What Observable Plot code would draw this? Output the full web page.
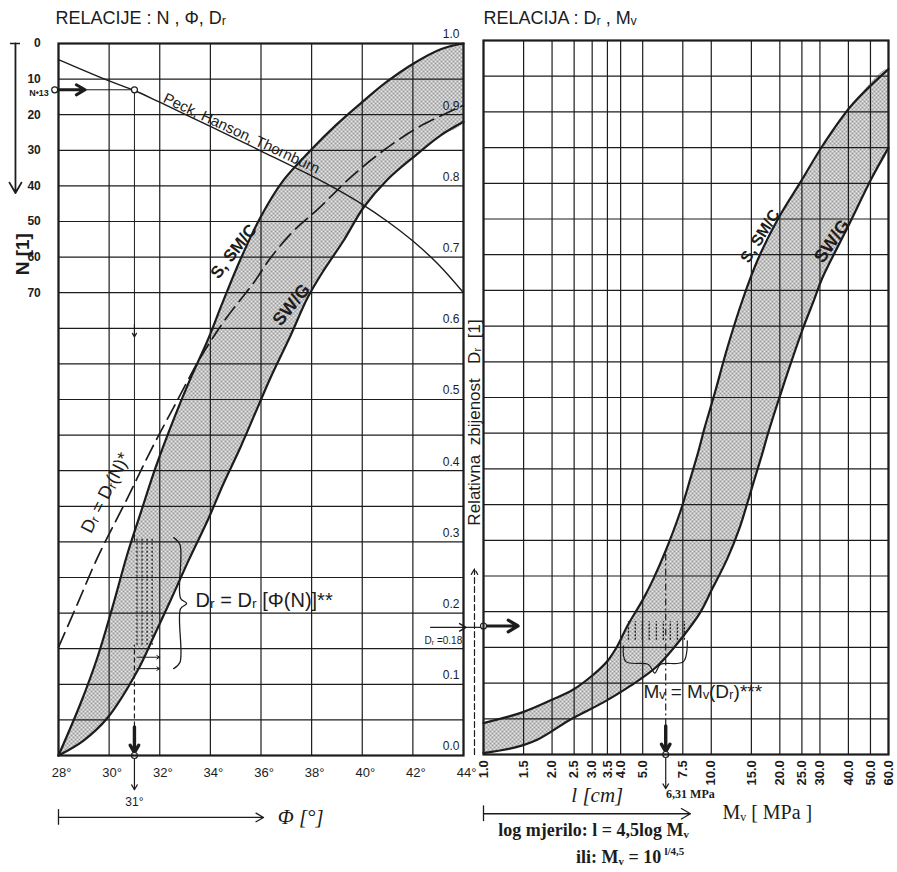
<!DOCTYPE html>
<html><head><meta charset="utf-8">
<script src="https://cdn.jsdelivr.net/npm/d3@7"></script>
<script src="https://cdn.jsdelivr.net/npm/@observablehq/plot@0.6"></script>
<style>
body{margin:0;background:#fff;}
#wrap{position:relative;width:897px;height:872px;overflow:hidden;background:#fff;}
#wrap svg{position:absolute;top:0;overflow:visible;}
</style></head><body>
<svg width="0" height="0" style="position:absolute">
<defs>
<pattern id="dots" width="4" height="4" patternUnits="userSpaceOnUse">
<rect width="4" height="4" fill="#e8e8e8"/>
<circle cx="1" cy="1" r="0.8" fill="#3c3c3c"/>
<circle cx="3" cy="3" r="0.8" fill="#3c3c3c"/>
</pattern></defs></svg>
<div id="wrap"></div>
<script>
// ================= DATA =================
// Left panel: N, Phi, Dr
const phiTicks = [28, 30, 32, 34, 36, 38, 40, 42, 44];
const drLabels = [0.0, 0.1, 0.2, 0.3, 0.4, 0.5, 0.6, 0.7, 0.8, 0.9, 1.0];
const drGrid = [0, 0.05, 0.1, 0.15, 0.2, 0.25, 0.3, 0.35, 0.4, 0.45, 0.5, 0.55, 0.6, 0.65, 0.7, 0.75, 0.8, 0.85, 0.9, 0.95, 1.0];
const nTicks = [0, 10, 20, 30, 40, 50, 60, 70];

const phiUpper = [28.00, 28.87, 29.54, 30.13, 30.73, 31.24, 31.83, 32.58, 33.22, 33.89, 34.48, 35.19, 35.98, 36.89, 37.96, 38.95, 39.94, 41.00, 42.03, 43.10, 44.00];
const drUpper  = [0.000, 0.073, 0.138, 0.208, 0.284, 0.340, 0.404, 0.475, 0.530, 0.583, 0.636, 0.697, 0.756, 0.808, 0.850, 0.885, 0.916, 0.947, 0.972, 0.992, 1.000];
const phiLower = [28.00, 28.99, 29.94, 31.12, 31.75, 32.43, 33.14, 33.89, 34.52, 35.19, 35.87, 36.38, 37.17, 37.84, 38.47, 39.26, 40.06, 41.00, 42.11, 43.10, 44.00];
const drLower  = [0.000, 0.021, 0.053, 0.119, 0.166, 0.218, 0.274, 0.330, 0.382, 0.433, 0.489, 0.531, 0.590, 0.643, 0.681, 0.723, 0.770, 0.809, 0.843, 0.871, 0.890];
const phiDashed = [28.00, 28.75, 29.54, 30.73, 31.64, 32.55, 33.61, 34.60, 35.71, 36.38, 37.29, 38.24, 39.54, 40.85, 42.30, 44.00];
const drDashed  = [0.152, 0.213, 0.278, 0.362, 0.428, 0.489, 0.559, 0.613, 0.664, 0.699, 0.737, 0.767, 0.812, 0.850, 0.884, 0.913];
const phiPeck = [28, 30, 31, 32, 34, 36, 38, 39, 40, 41, 42, 43, 44];
const nPeck   = [4.5, 10.5, 13.2, 16.5, 23.3, 30.2, 37.2, 41, 45.2, 50, 55.5, 62, 70];

// worked example
const nExample = 13, phiExample = 31, drExample = 0.18, mvExample = 6.31;
const braceLPhi = [32.55, 32.80, 32.82, 33.06, 32.82, 32.80, 32.55];
const braceLDr  = [0.306, 0.296, 0.221, 0.2135, 0.206, 0.131, 0.122];
const stippleLPhi = [31.1, 31.3, 31.5, 31.7];
const smallArrowsLDr = [0.138, 0.122];

// Right panel: Dr, Mv
const mvTicks = [1, 1.5, 2, 2.5, 3, 3.5, 4, 5, 7.5, 10, 15, 20, 25, 30, 40, 50, 60];
const mvUpper  = [1.00, 1.48, 2.01, 2.48, 3.04, 3.50, 3.87, 4.28, 5.03, 5.57, 6.28, 7.31, 8.09, 8.77, 9.32, 10.4, 11.75, 13.8, 16.1, 19.7, 24.8, 31.0, 41.5, 60];
const drUpperR = [0.044, 0.059, 0.077, 0.091, 0.112, 0.131, 0.152, 0.180, 0.218, 0.246, 0.284, 0.340, 0.386, 0.424, 0.456, 0.508, 0.569, 0.639, 0.695, 0.751, 0.803, 0.854, 0.910, 0.960];
const mvLower  = [1.00, 1.38, 1.73, 2.41, 3.36, 4.41, 5.80, 7.54, 8.95, 10.1, 11.75, 13.27, 14.4, 15.4, 16.7, 17.8, 20.3, 25.3, 28.3, 30.7, 39.5, 50.8, 60];
const drLowerR = [0.002, 0.010, 0.021, 0.049, 0.073, 0.096, 0.124, 0.166, 0.199, 0.232, 0.274, 0.316, 0.352, 0.383, 0.420, 0.451, 0.508, 0.597, 0.637, 0.667, 0.737, 0.808, 0.850];
const stippleRMv = [4.33, 4.64, 4.98, 5.34, 5.74, 6.16, 6.61, 7.10, 7.62];
const braceRMv = [4.11, 4.22, 5.30, 5.65, 5.98, 7.55, 7.85];
const braceRDr = [0.152, 0.130, 0.126, 0.114, 0.126, 0.130, 0.159];

// ================= HELPERS =================
const ink = "#1c1c1c";
const sans = "Liberation Sans, DejaVu Sans, sans-serif";
const serif = "Liberation Serif, DejaVu Serif, serif";
const pts = (xs, ys) => xs.map((x, i) => ({x, y: ys[i]}));
const nToDr = n => 1 - n / 200;   // N axis shares the Dr grid: 10 blows per 0.05 Dr
const one = [0];
const txt = (s, o) => Plot.text([s], {text: d => d, fill: ink, ...o});

const upperL = pts(phiUpper, drUpper), lowerL = pts(phiLower, drLower);
const bandL = upperL.concat(lowerL.slice().reverse());
const dashedL = pts(phiDashed, drDashed);
const peck = phiPeck.map((x, i) => ({x, y: nToDr(nPeck[i])}));
const braceL = pts(braceLPhi, braceLDr);

const upperR = pts(mvUpper, drUpperR), lowerR = pts(mvLower, drLowerR);
const bandR = upperR.concat(lowerR.slice().reverse());
const braceR = pts(braceRMv, braceRDr);

// ================= LEFT PLOT =================
const left = Plot.plot({
  width: 475, height: 872,
  marginLeft: 58, marginRight: 12, marginTop: 43, marginBottom: 117,
  x: {domain: [28, 44], axis: null},
  y: {domain: [0, 1], axis: null},
  style: {background: "transparent", overflow: "visible", fontFamily: sans, color: ink},
  marks: [
    Plot.line(bandL, {x: "x", y: "y", fill: "url(#dots)", stroke: "none", curve: "catmull-rom", clip: true}),
    Plot.ruleY(drGrid, {stroke: ink, strokeWidth: 1.2}),
    Plot.ruleX(phiTicks, {stroke: ink, strokeWidth: 1.2}),
    Plot.line(peck, {x: "x", y: "y", curve: "catmull-rom", stroke: ink, strokeWidth: 1.4}),
    Plot.line(upperL, {x: "x", y: "y", curve: "catmull-rom", stroke: ink, strokeWidth: 2.2}),
    Plot.line(lowerL, {x: "x", y: "y", curve: "catmull-rom", stroke: ink, strokeWidth: 2.2}),
    Plot.line(dashedL, {x: "x", y: "y", curve: "catmull-rom", stroke: ink, strokeWidth: 1.7, strokeDasharray: "16,7"}),
    // worked example construction
    Plot.ruleY([nToDr(nExample)], {x1: 29.05, x2: phiExample, stroke: ink, strokeWidth: 1}),
    Plot.arrow(one, {x1: 27.85, x2: 29.05, y1: nToDr(nExample), y2: nToDr(nExample), stroke: ink, strokeWidth: 3, headLength: 8}),
    Plot.ruleX([phiExample], {y1: 0.30, y2: nToDr(nExample), stroke: ink, strokeWidth: 1}),
    Plot.arrow(one, {x1: phiExample, x2: phiExample, y1: 0.605, y2: 0.588, stroke: ink, strokeWidth: 1.2, headLength: 7}),
    Plot.ruleX(stippleLPhi, {y1: 0.155, y2: 0.305, stroke: ink, strokeWidth: 1.3, strokeDasharray: "2,2"}),
    Plot.arrow(smallArrowsLDr, {x1: 31.1, x2: 32.0, y1: d => d, y2: d => d, stroke: ink, strokeWidth: 1, headLength: 5}),
    Plot.ruleX([phiExample], {y1: 0.04, y2: 0.155, stroke: ink, strokeWidth: 1.2, strokeDasharray: "5,3"}),
    Plot.arrow(one, {x1: phiExample, x2: phiExample, y1: 0.04, y2: 0.004, stroke: ink, strokeWidth: 3.4, headLength: 8}),
    Plot.arrow(one, {x1: phiExample, x2: phiExample, y1: 0, y2: -0.048, stroke: ink, strokeWidth: 1.2, headLength: 7}),
    Plot.line(braceL, {x: "x", y: "y", curve: "catmull-rom", stroke: ink, strokeWidth: 1.3}),
    Plot.arrow(one, {x1: 42.7, x2: 44.1, y1: drExample, y2: drExample, stroke: ink, strokeWidth: 1.4, headLength: 8}),
    Plot.ruleY([drExample], {x1: 44.1, x2: 44.8, stroke: ink, strokeWidth: 1.2}),
    Plot.dot([{x: 27.85, y: nToDr(nExample)}, {x: phiExample, y: nToDr(nExample)}, {x: phiExample, y: 0}],
      {x: "x", y: "y", r: 3, fill: "white", stroke: ink, strokeWidth: 1.2}),
    // N axis arrow on far left
    Plot.arrow(one, {x1: 26.3, x2: 26.3, y1: 1, y2: 0.79, stroke: ink, strokeWidth: 1.8, headLength: 10}),
    Plot.ruleY([1], {x1: 26.1, x2: 26.5, stroke: ink, strokeWidth: 1.5}),
    // Phi axis arrow
    Plot.arrow(one, {x1: 28, x2: 36.1, y1: -0.087, y2: -0.087, stroke: ink, strokeWidth: 1.3, headLength: 10}),
    Plot.ruleX([28], {y1: -0.076, y2: -0.098, stroke: ink, strokeWidth: 1.3}),
    Plot.frame({stroke: ink, strokeWidth: 2.2}),
    // labels
    Plot.text(drLabels, {y: d => d, frameAnchor: "right", dx: -4, dy: -9, text: d => d.toFixed(1), textAnchor: "end", fontSize: 12, fill: ink}),
    Plot.text(nTicks, {x: 27.3, y: d => nToDr(d), text: d => String(d), textAnchor: "end", fontSize: 12, fontWeight: "bold", fill: ink}),
    Plot.text(phiTicks, {x: d => d, y: -0.024, dx: 3, text: d => d + "°", fontSize: 13, fill: ink}),
    txt("RELACIJE : N , Φ, Dᵣ", {x: 27.88, y: 1.035, textAnchor: "start", fontSize: 18}),
    txt("N•13", {x: 27.62, y: nToDr(nExample), dy: 3, textAnchor: "end", fontSize: 9, fontWeight: "bold"}),
    txt("N [1]", {x: 26.58, y: 0.704, rotate: -90, fontSize: 19, fontWeight: "bold"}),
    txt("31°", {x: phiExample, y: -0.066, fontSize: 12}),
    txt("Φ [°]", {x: 36.66, y: -0.087, textAnchor: "start", fontSize: 21, fontFamily: serif, fontStyle: "italic"}),
    txt("Peck, Hanson, Thornburn", {x: 35.23, y: 0.8736, rotate: 25, fontSize: 15}),
    txt("S, SM/C", {x: 34.92, y: 0.708, rotate: -52, fontSize: 17, fontWeight: 600}),
    txt("SW/G", {x: 37.2, y: 0.633, rotate: -51, fontSize: 18, fontWeight: 600}),
    txt("Dᵣ = Dᵣ(N)*", {x: 29.86, y: 0.369, rotate: -63, fontSize: 18}),
    txt("Dᵣ = Dᵣ [Φ(N)]**", {x: 33.41, y: 0.218, textAnchor: "start", fontSize: 20}),
    txt("Dᵣ =0.18", {x: 43.95, y: 0.1615, textAnchor: "end", fontSize: 10})
  ]
});

// ================= RIGHT PLOT =================
const right = Plot.plot({
  width: 434, height: 872,
  marginLeft: 20, marginRight: 9, marginTop: 40, marginBottom: 118,
  x: {type: "log", domain: [1, 60], axis: null},
  y: {domain: [0, 1], axis: null},
  style: {background: "transparent", overflow: "visible", fontFamily: sans, color: ink},
  marks: [
    Plot.line(bandR, {x: "x", y: "y", fill: "url(#dots)", stroke: "none", curve: "catmull-rom", clip: true}),
    Plot.ruleY(drGrid, {stroke: ink, strokeWidth: 1.2}),
    Plot.ruleX(mvTicks, {stroke: ink, strokeWidth: 1.2}),
    Plot.line(upperR, {x: "x", y: "y", curve: "catmull-rom", stroke: ink, strokeWidth: 2.2}),
    Plot.line(lowerR, {x: "x", y: "y", curve: "catmull-rom", stroke: ink, strokeWidth: 2.2}),
    // worked example
    Plot.ruleX(stippleRMv, {y1: 0.160, y2: 0.186, stroke: ink, strokeWidth: 1.3, strokeDasharray: "2,1.5"}),
    Plot.line(braceR, {x: "x", y: "y", curve: "catmull-rom", stroke: ink, strokeWidth: 1.2}),
    Plot.ruleX([mvExample], {y1: 0.04, y2: 0.28, stroke: ink, strokeWidth: 1.2, strokeDasharray: "7,3,2,3"}),
    Plot.arrow(one, {x1: mvExample, x2: mvExample, y1: 0.04, y2: 0.004, stroke: ink, strokeWidth: 3.4, headLength: 8}),
    Plot.arrow(one, {x1: mvExample, x2: mvExample, y1: 0, y2: -0.048, stroke: ink, strokeWidth: 1.2, headLength: 7}),
    Plot.arrow(one, {x1: 1, x2: 1.42, y1: drExample, y2: drExample, stroke: ink, strokeWidth: 3.2, headLength: 9}),
    Plot.dot([{x: 1, y: drExample}, {x: mvExample, y: 0}], {x: "x", y: "y", r: 3, fill: "white", stroke: ink, strokeWidth: 1.2}),
    // strip arrow (Dr direction)
    Plot.arrow(one, {x1: 0.913, x2: 0.913, y1: 0, y2: 0.26, stroke: ink, strokeWidth: 1.2, headLength: 8, strokeDasharray: "6,3"}),
    txt("Relativna  zbijenost   Dᵣ  [1]", {x: 0.913, y: 0.465, rotate: -90, fontSize: 17}),
    // bottom arrow
    Plot.arrow(one, {x1: 1, x2: 8.1, y1: -0.083, y2: -0.083, stroke: ink, strokeWidth: 1.3, headLength: 12}),
    Plot.ruleX([1], {y1: -0.072, y2: -0.094, stroke: ink, strokeWidth: 1.3}),
    Plot.frame({stroke: ink, strokeWidth: 2.2}),
    // labels
    Plot.text(mvTicks, {x: d => d, y: -0.008, rotate: -90, textAnchor: "end", text: d => d.toFixed(1), fontSize: 13, fontWeight: "bold", fill: ink}),
    txt("RELACIJA : Dᵣ , Mᵥ", {x: 1, y: 1.031, textAnchor: "start", fontSize: 18}),
    txt("S, SM/C", {x: 16.4, y: 0.726, rotate: -58, fontSize: 16, fontWeight: 600}),
    txt("SW/G", {x: 33.9, y: 0.719, rotate: -55, fontSize: 18, fontWeight: 600}),
    txt("Mᵥ = Mᵥ(Dᵣ)***", {x: 5.04, y: 0.087, textAnchor: "start", fontSize: 19}),
    txt("l [cm]", {x: 3.16, y: -0.057, fontSize: 21, fontFamily: serif, fontStyle: "italic"}),
    txt("6,31 MPa", {x: 8.1, y: -0.056, fontSize: 12, fontFamily: serif, fontWeight: "bold"}),
    txt("Mᵥ [ MPa ]", {x: 11.2, y: -0.081, textAnchor: "start", fontSize: 20, fontFamily: serif}),
    txt("log mjerilo: l = 4,5log Mᵥ", {x: 3.04, y: -0.106, fontSize: 18, fontFamily: serif, fontWeight: "bold"}),
    txt("ili: Mᵥ = 10", {x: 6.03, y: -0.144, textAnchor: "end", fontSize: 18, fontFamily: serif, fontWeight: "bold"}),
    txt("l/4,5", {x: 6.23, y: -0.136, textAnchor: "start", fontSize: 11, fontFamily: serif, fontWeight: "bold"})
  ]
});

const wrap = document.getElementById("wrap");
left.style.left = "0px";
right.style.left = "463px";
wrap.appendChild(left);
wrap.appendChild(right);
</script>
</body></html>
